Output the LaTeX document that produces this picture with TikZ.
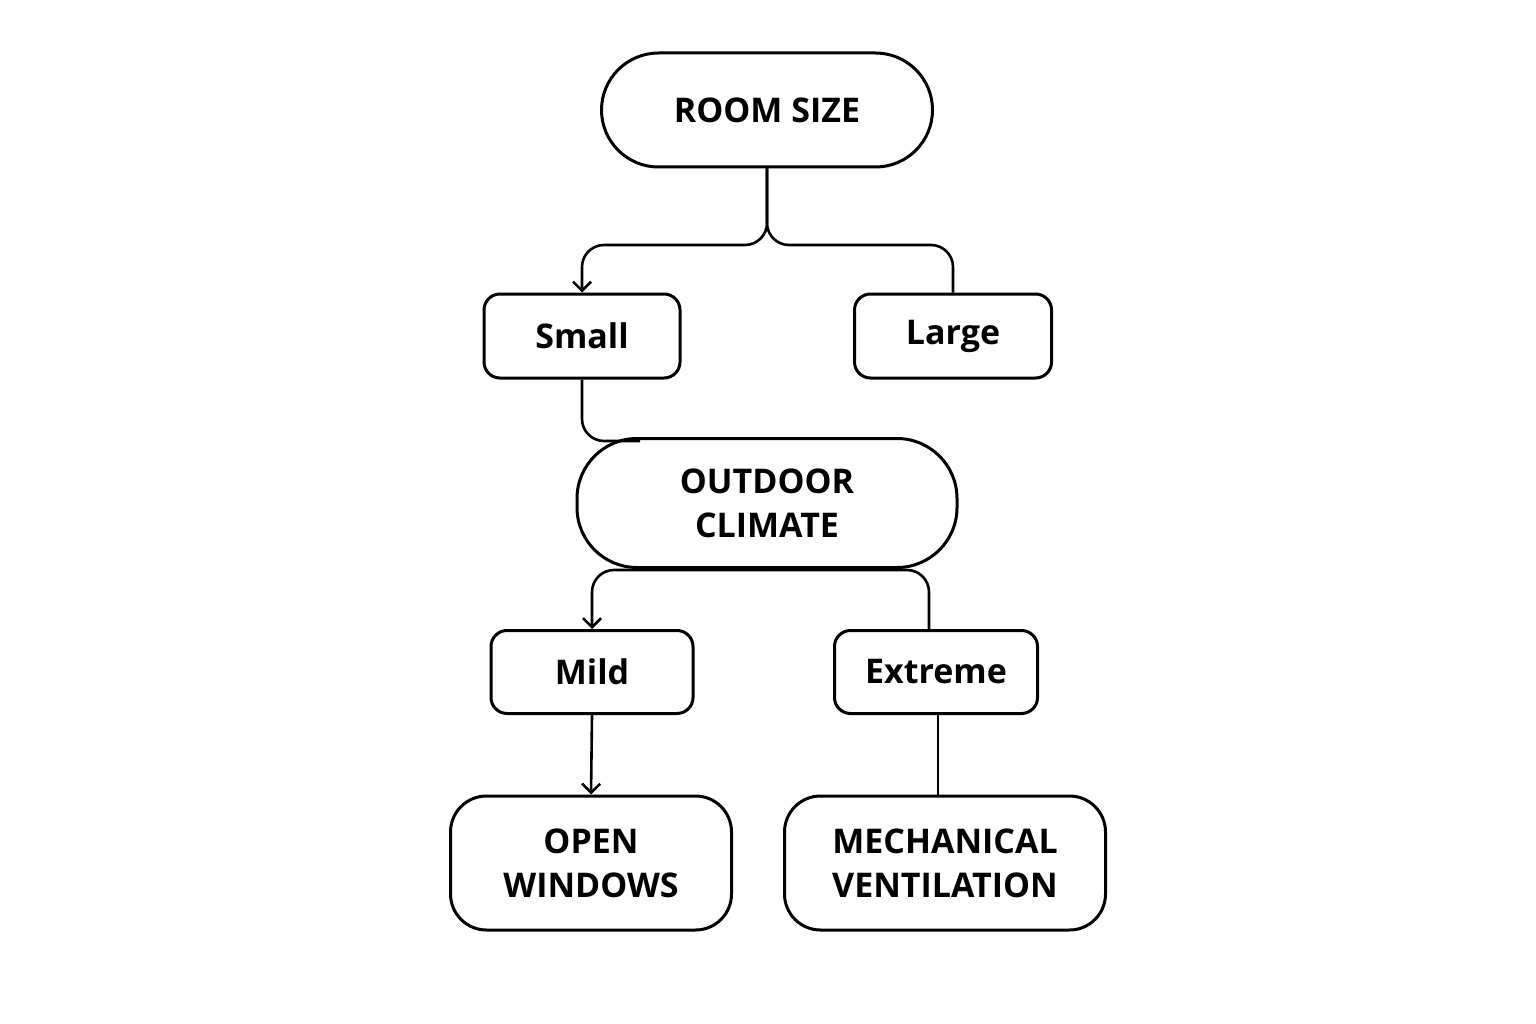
\documentclass[tikz,border=0pt]{standalone}
\usepackage{fontspec}
\setmainfont{Open Sans}
\usetikzlibrary{arrows.meta}
\begin{document}
\begin{tikzpicture}[x=1pt,y=-1pt,
  box/.style={draw,line width=3pt,align=center,font=\fontsize{34}{44}\selectfont\bfseries,inner sep=0pt},
  con/.style={line width=2.6pt,rounded corners=22pt},
  arr/.style={con,-{Straight Barb[length=9pt,width=18pt,line width=2.6pt]}}]
\useasboundingbox (0,0) rectangle (1536,1024);
\node[box,minimum width=331pt,minimum height=114pt,rounded corners=57pt] (room) at (767,110) {ROOM SIZE};
\node[box,minimum width=196pt,minimum height=84pt,rounded corners=16pt] (small) at (582,336) {Small};
\node[box,minimum width=197pt,minimum height=84pt,rounded corners=16pt] (large) at (953,336) {Large};
\node[box,minimum width=380pt,minimum height=129pt,rounded corners=60pt] (out) at (767,503) {OUTDOOR\\CLIMATE};
\node[box,minimum width=202pt,minimum height=83pt,rounded corners=16pt] (mild) at (592,672) {Mild};
\node[box,minimum width=203pt,minimum height=83pt,rounded corners=16pt] (ext) at (936,672) {Extreme};
\node[box,minimum width=281pt,minimum height=134pt,rounded corners=36pt] (open) at (591,863) {OPEN\\WINDOWS};
\node[box,minimum width=321pt,minimum height=134pt,rounded corners=36pt] (mech) at (945,863) {MECHANICAL\\VENTILATION};
\draw[arr] (room.south) -- (767,245) -- (582,245) -- (small.north);
\draw[con] (room.south) -- (767,245) -- (953,245) -- (large.north);
\draw[con] (small.south) -- (582,441) -- (640,441);
\draw[arr] (767,570) -- (592,570) -- (mild.north);
\draw[con] (767,570) -- (929,570) -- (929,631);
\draw[arr] (mild.south) -- (open.north);
\draw[con] (938,714) -- (938,796);
\end{tikzpicture}
\end{document}
